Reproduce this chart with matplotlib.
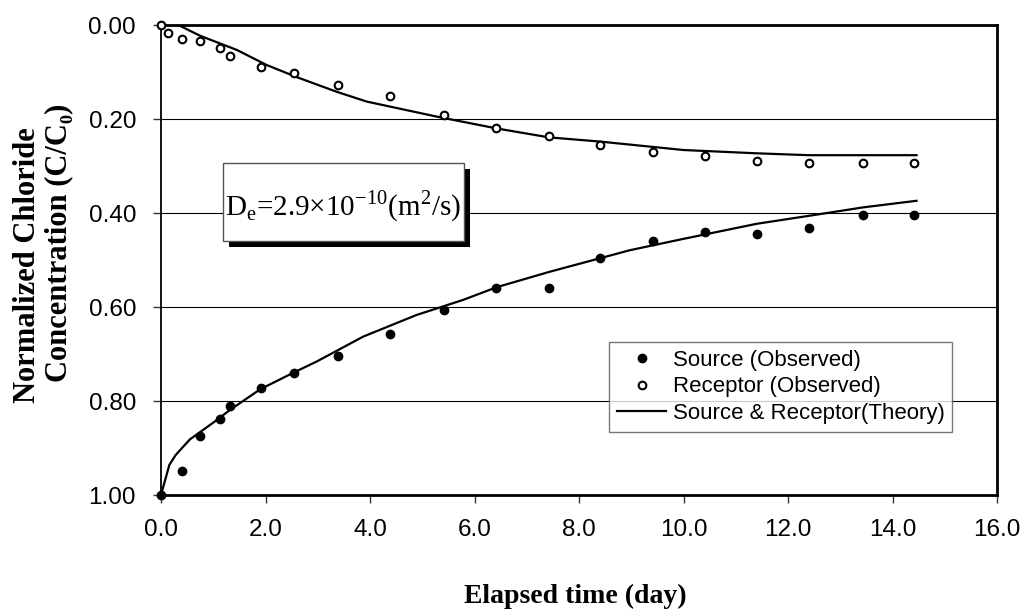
import matplotlib
matplotlib.use("Agg")
import matplotlib.pyplot as plt
from matplotlib.patches import Rectangle

plt.rcParams['font.family'] = ['Liberation Sans', 'DejaVu Sans']
plt.rcParams['mathtext.fontset'] = 'custom'
plt.rcParams['mathtext.rm'] = 'Liberation Serif'

# observed data (elapsed day, C/C0)
t_obs = [0.0, 0.41, 0.75, 1.13, 1.33, 1.91, 2.55, 3.39, 4.39, 5.42, 6.42, 7.42, 8.41, 9.42, 10.41, 11.40, 12.40, 13.43, 14.42]
source_obs = [1.0, 0.948, 0.874, 0.838, 0.810, 0.773, 0.740, 0.704, 0.657, 0.607, 0.560, 0.560, 0.495, 0.459, 0.440, 0.445, 0.432, 0.404, 0.404]

t_rec = [0.0, 0.14, 0.41, 0.75, 1.13, 1.33, 1.91, 2.55, 3.39, 4.39, 5.42, 6.42, 7.42, 8.40, 9.42, 10.41, 11.40, 12.40, 13.43, 14.42]
receptor_obs = [0.0, 0.016, 0.030, 0.035, 0.048, 0.067, 0.090, 0.103, 0.127, 0.150, 0.191, 0.219, 0.237, 0.256, 0.270, 0.279, 0.289, 0.293, 0.294, 0.294]

# theory curves
t_src_th = [0.0, 0.16, 0.28, 0.55, 1.0, 1.32, 1.9, 2.53, 2.98, 3.87, 4.89, 5.78, 6.42, 7.44, 8.98, 10.0, 11.4, 12.4, 13.44, 14.46]
source_th = [1.0, 0.936, 0.915, 0.882, 0.846, 0.819, 0.775, 0.740, 0.716, 0.663, 0.617, 0.585, 0.558, 0.525, 0.479, 0.455, 0.423, 0.406, 0.388, 0.374]
t_rec_th = [0.0, 0.33, 0.75, 1.45, 2.02, 2.6, 3.36, 3.94, 5.28, 6.42, 7.42, 8.40, 10.0, 11.4, 12.4, 14.46]
receptor_th = [0.0, 0.0, 0.023, 0.053, 0.085, 0.111, 0.142, 0.163, 0.195, 0.220, 0.239, 0.248, 0.266, 0.273, 0.277, 0.277]

xticks = [0, 2, 4, 6, 8, 10, 12, 14, 16]
yticks = [0.0, 0.2, 0.4, 0.6, 0.8, 1.0]

fig = plt.figure(figsize=(10.28, 6.10), dpi=100)
ax = fig.add_axes([161/1028, 1-495/610, 836/1028, 470/610])

for yv in yticks[1:-1]:
    ax.axhline(yv, color='black', lw=0.8, zorder=1)

ax.plot(t_src_th, source_th, color='black', lw=1.6, zorder=2, label='Source & Receptor(Theory)')
ax.plot(t_rec_th, receptor_th, color='black', lw=1.6, zorder=2)
ax.plot(t_obs, source_obs, 'o', color='black', ms=6, ls='none', zorder=3, clip_on=False, label='Source (Observed)')
ax.plot(t_rec, receptor_obs, 'o', mfc='white', mec='black', mew=1.5, ms=5.5, ls='none', zorder=3, clip_on=False, label='Receptor (Observed)')

ax.set_xlim(0, 16)
ax.set_ylim(1.0, 0.0)
ax.set_xticks(xticks)
ax.set_yticks(yticks)
ax.set_xticklabels(['%.1f' % v for v in xticks])
ax.set_yticklabels(['%.2f' % v for v in yticks])
ax.tick_params(axis='both', direction='out', length=6, width=1, labelsize=17.5, color='#333333')
ax.tick_params(axis='x', pad=11)
ax.tick_params(axis='y', pad=12)
for side in ['top', 'right', 'bottom']:
    ax.spines[side].set_linewidth(2.0)
ax.spines['left'].set_linewidth(1.3)

# legend
h, l = ax.get_legend_handles_labels()
order = [1, 2, 0]
leg = ax.legend([h[i] for i in order], [l[i] for i in order], loc='upper left',
                bbox_to_anchor=(0.523, 0.349), fontsize=16, frameon=True, fancybox=False,
                edgecolor='#555555', handlelength=2.2, borderpad=0.35, labelspacing=0.25,
                handletextpad=0.3)
leg.get_frame().set_linewidth(1.0)

# coefficient box with shadow
bx, by, bw, bh = 0.0742, 0.5404, 0.288, 0.166
ax.add_patch(Rectangle((bx + 0.0075, by - 0.013), bw, bh, transform=ax.transAxes,
                       facecolor='black', edgecolor='none', zorder=4))
ax.add_patch(Rectangle((bx, by), bw, bh, transform=ax.transAxes,
                       facecolor='white', edgecolor='#555555', lw=1.0, zorder=5))
ax.text(bx + bw/2, by + bh/2 - 0.01,
        r'D$_\mathregular{e}$=2.9×10$^\mathregular{-10}$(m$^\mathregular{2}$/s)',
        transform=ax.transAxes, ha='center', va='center', fontsize=21,
        family=['Liberation Serif', 'DejaVu Serif'], zorder=6)

# axis titles
fig.text(575/1028, 1-603/610, 'Elapsed time (day)', ha='center', va='baseline',
         fontsize=20, fontweight='bold', family=['Liberation Serif', 'DejaVu Serif'])
fig.text(28/1028, 1-265/610, 'Normalized Chloride', rotation=90, ha='center', va='center',
         fontsize=22, fontweight='bold', family=['Liberation Serif', 'DejaVu Serif'])
fig.text(59/1028, 1-243/610, 'Concentration (C/C₀)', rotation=90, ha='center', va='center',
         fontsize=22, fontweight='bold', family=['Liberation Serif', 'DejaVu Serif'])

fig.savefig('out.png', dpi=100)
